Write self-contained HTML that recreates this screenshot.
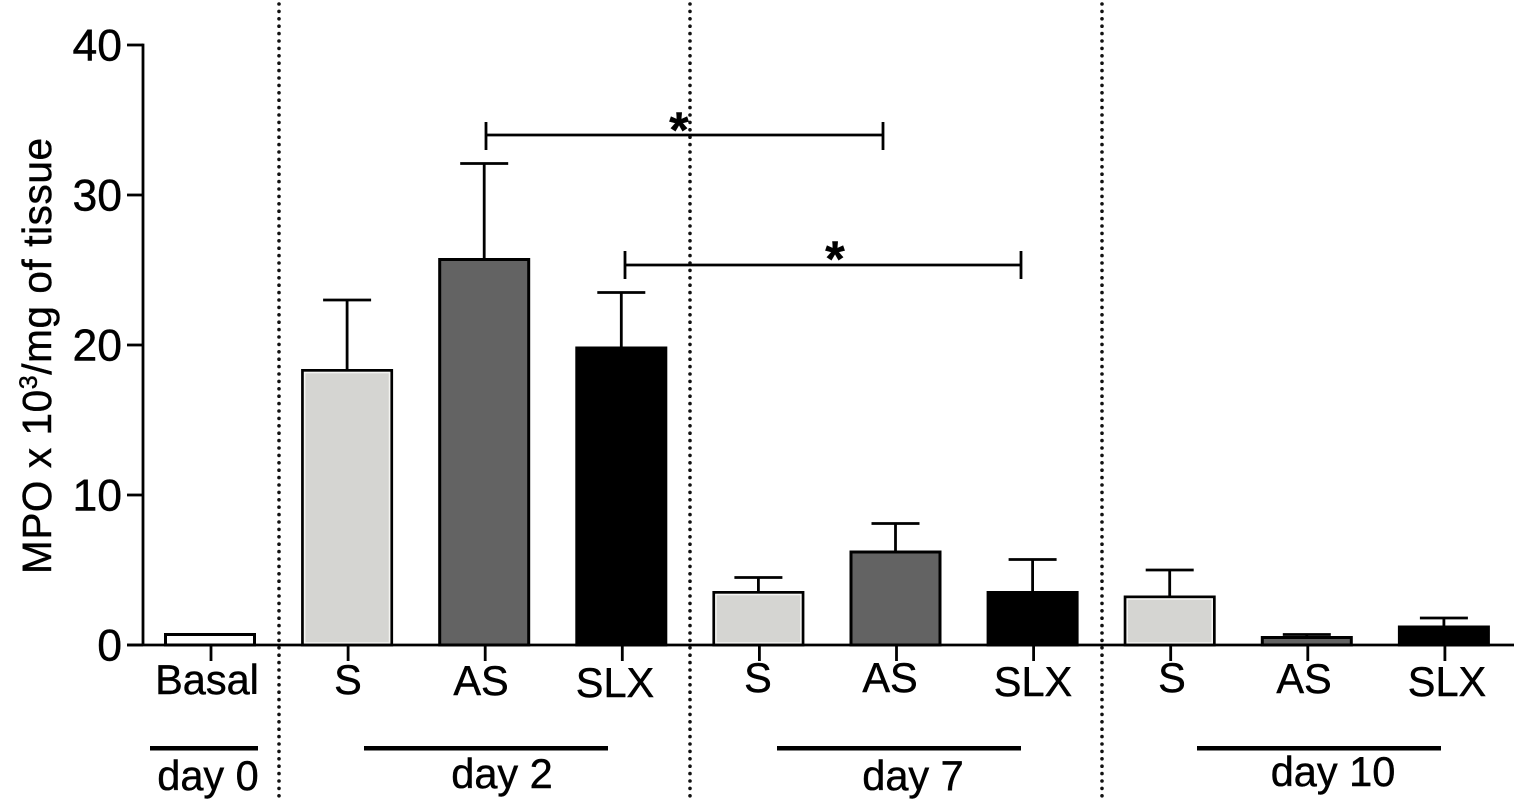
<!DOCTYPE html>
<html lang="en">
<head>
<meta charset="utf-8">
<title>MPO by day and treatment</title>
<style>
html,body{margin:0;padding:0;background:#fff;width:1520px;height:805px;overflow:hidden}
svg{display:block}
text{font-family:"Liberation Sans",sans-serif;fill:#000;stroke:#000;stroke-width:.45px}
</style>
</head>
<body>
<svg id="chart" width="1520" height="805" viewBox="0 0 1520 805" xmlns="http://www.w3.org/2000/svg">
  <g id="dividers" fill="none" stroke="#111" stroke-width="3.6" stroke-linecap="round" stroke-dasharray="0 7.4">
    <line x1="279" y1="4" x2="279" y2="798"/>
    <line x1="690" y1="4" x2="690" y2="798"/>
    <line x1="1102" y1="4" x2="1102" y2="798"/>
  </g>
  <g id="marks"></g>
  <g id="axes"></g>

  <text transform="translate(51,574) rotate(-90)" font-size="40.5" textLength="436">MPO x 10<tspan font-size="25" dy="-14">3</tspan><tspan dy="14">/mg of tissue</tspan></text>

  <g font-size="41.5" text-anchor="middle">
    <text x="207" y="694">Basal</text>
    <text x="348" y="694">S</text>
    <text x="481" y="695">AS</text>
    <text x="615" y="697">SLX</text>
    <text x="758" y="692">S</text>
    <text x="890" y="692">AS</text>
    <text x="1033" y="696">SLX</text>
    <text x="1172" y="692">S</text>
    <text x="1304" y="693">AS</text>
    <text x="1447" y="696">SLX</text>
  </g>

  <g>
    <g fill="#000">
      <rect x="150" y="746" width="108" height="4.5"/>
      <rect x="364" y="746" width="244" height="4.5"/>
      <rect x="777" y="746" width="244" height="4.5"/>
      <rect x="1197" y="746" width="244" height="4.5"/>
    </g>
    <g font-size="41.5" text-anchor="middle">
      <text x="208" y="790">day 0</text>
      <text x="502" y="788">day 2</text>
      <text x="913" y="790">day 7</text>
      <text x="1333" y="786">day 10</text>
    </g>
  </g>

  <g stroke="#000" stroke-width="2.8" fill="none">
    <path d="M486 122V150M486 135H883M883 122V150"/>
    <path d="M625 251V279M625 265H1021M1021 251V279"/>
  </g>
  <text x="679" y="147" font-size="50" font-weight="bold" text-anchor="middle">*</text>
  <text x="835" y="276" font-size="50" font-weight="bold" text-anchor="middle">*</text>
</svg>
<script>
var categories = ["Basal","S","AS","SLX","S","AS","SLX","S","AS","SLX"];
var means = [0.7,18.3,25.7,19.8,3.5,6.2,3.5,3.2,0.5,1.2];
var errorTops = [0.7,23,32.1,23.5,4.5,8.1,5.7,5,0.7,1.8];
var yTicks = [0,10,20,30,40];

var NS = "http://www.w3.org/2000/svg";
var fills = {Basal:"#ffffff",S:"#d5d5d2",AS:"#636363",SLX:"#000000"};
function yScale(v){ return 645 - v * 15; }
function xScale(i){ return 210 + i * 137.1; }
function make(tag, attrs, parent){
  var el = document.createElementNS(NS, tag);
  for (var k in attrs) el.setAttribute(k, attrs[k]);
  parent.appendChild(el);
  return el;
}
var marks = document.getElementById("marks");
var axes = document.getElementById("axes");
var halfWidth = 44.5, capHalf = 24;

categories.forEach(function(cat, i){
  var cx = xScale(i), top = yScale(means[i]), errY = yScale(errorTops[i]);
  if (errorTops[i] > means[i]) {
    var stem = make("line", {x1:cx, x2:cx, y1:top, y2:errY, stroke:"#000", "stroke-width":2.8}, marks);
    
    
  }
  var cap = make("line", {x1:cx-capHalf, x2:cx+capHalf, y1:errY, y2:errY, stroke:"#000", "stroke-width":2.8}, marks);
  
  
  var bar = make("rect", {x:cx-halfWidth, y:top, width:halfWidth*2, height:Math.max(0, yScale(0)-top), fill:fills[cat], stroke:"#000", "stroke-width":3}, marks);
  
  
  if (cat === "S") {
    var glow = make("rect", {x:cx-halfWidth+2, y:top+2, width:halfWidth*2-4, height:Math.max(0, yScale(0)-top-4), fill:"none", stroke:"#f4f4f2", "stroke-width":1.6}, marks);
    
    
  }
  var tick = make("line", {x1:cx+1, x2:cx+1, y1:645, y2:661, stroke:"#000", "stroke-width":2.8}, axes);
  
  
});

var xAxis = make("line", {x1:127, x2:1514, y1:645, y2:645, stroke:"#000", "stroke-width":2.8}, axes);


var yAxis = make("line", {x1:143, x2:143, y1:yScale(40)-1.4, y2:645, stroke:"#000", "stroke-width":2.8}, axes);



yTicks.forEach(function(t){
  var y = yScale(t);
  var tick = make("line", {x1:127, x2:143, y1:y, y2:y, stroke:"#000", "stroke-width":2.8}, axes);
  
  
  var label = make("text", {x:122, y:y+15.5, "font-size":44.5, "text-anchor":"end"}, axes);
  
  
  label.textContent = String(t);
});
</script>
</body>
</html>
